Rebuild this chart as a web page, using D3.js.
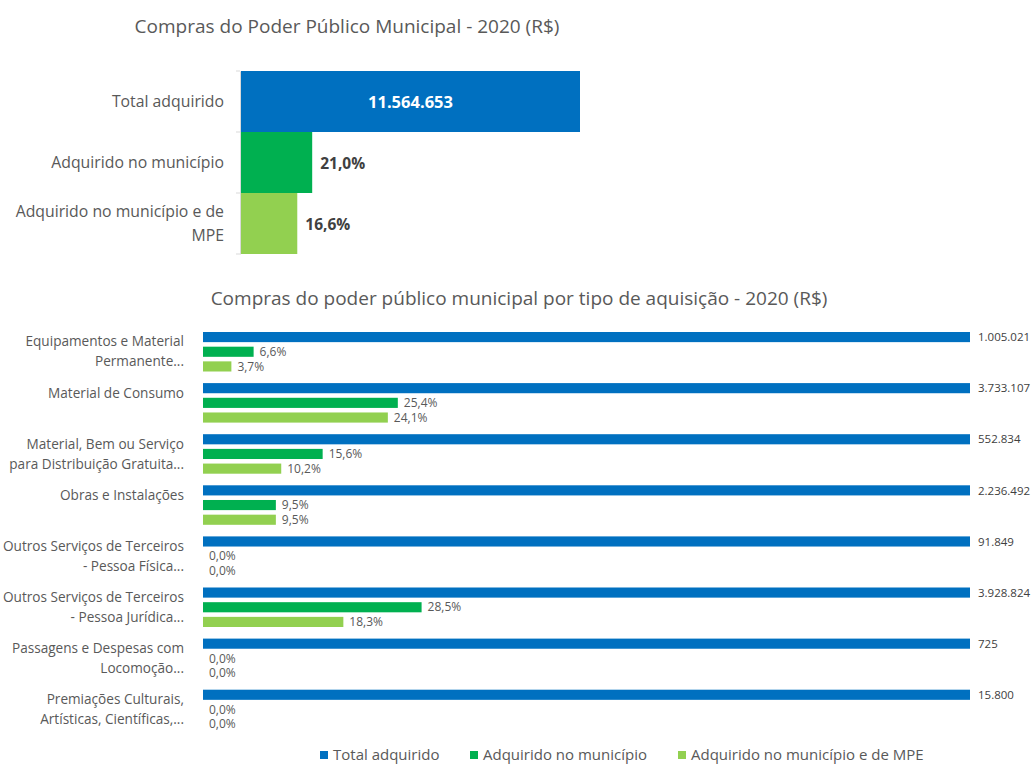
<!DOCTYPE html>
<html><head><meta charset="utf-8">
<script src="https://cdn.jsdelivr.net/npm/d3@7"></script>
<style>body{margin:0;background:#fff}svg{display:block}text{font-family:"Open Sans",Lato,sans-serif}</style>
</head><body><svg id="c" width="1035" height="765"></svg>
<script>
// Top chart data
const topCats = ["Total adquirido", "Adquirido no município", "Adquirido no município e de MPE"];
const topLabelLines = [["Total adquirido"], ["Adquirido no município"], ["Adquirido no município e de", "MPE"]];
const topPct = [100, 21.0, 16.6];
const topLabels = ["11.564.653", "21,0%", "16,6%"];

// Bottom chart data
const categories = [
  ["Equipamentos e Material", "Permanente..."],
  ["Material de Consumo"],
  ["Material, Bem ou Serviço", "para Distribuição Gratuita..."],
  ["Obras e Instalações"],
  ["Outros Serviços de Terceiros", "- Pessoa Física..."],
  ["Outros Serviços de Terceiros", "- Pessoa Jurídica..."],
  ["Passagens e Despesas com", "Locomoção..."],
  ["Premiações Culturais,", "Artísticas, Científicas,..."]
];
const seriesNames = ["Total adquirido", "Adquirido no município", "Adquirido no município e de MPE"];
const totalValues = ["1.005.021", "3.733.107", "552.834", "2.236.492", "91.849", "3.928.824", "725", "15.800"];
const totalPct = [100, 100, 100, 100, 100, 100, 100, 100];
const municipioPct = [6.6, 25.4, 15.6, 9.5, 0.0, 28.5, 0.0, 0.0];
const mpePct = [3.7, 24.1, 10.2, 9.5, 0.0, 18.3, 0.0, 0.0];
const colors = ["#0070C0", "#00B050", "#92D050"];

const fmtPct = v => v.toFixed(1).replace(".", ",") + "%";
const svg = d3.select("#c");
const gray = "#595959";

// ---- Top chart ----
svg.append("text").attr("x", 347).attr("y", 33).attr("text-anchor", "middle")
  .attr("font-size", 19).attr("fill", gray).text("Compras do Poder Público Municipal - 2020 (R$)");

const tx = d3.scaleLinear().domain([0, 100]).range([241, 580]);
const ty = d3.scaleBand().domain(topCats).range([71, 254]).padding(0);

svg.selectAll("rect.top").data(topCats).join("rect").attr("class", "top")
  .attr("x", tx(0)).attr("y", d => ty(d)).attr("height", ty.bandwidth())
  .attr("width", (d, i) => tx(topPct[i]) - tx(0)).attr("fill", (d, i) => colors[i]);

const tAxis = svg.append("g").attr("transform", `translate(240,0)`)
  .call(d3.axisLeft(ty).tickSize(0).tickFormat(""));
tAxis.select(".domain").attr("stroke", "#d9d9d9");
svg.selectAll("line.tt").data([...topCats.map(c => ty(c)), ty(topCats[2]) + ty.bandwidth()]).join("line")
  .attr("x1", 236).attr("x2", 240).attr("y1", d => d).attr("y2", d => d).attr("stroke", "#d9d9d9");

topLabelLines.forEach((lines, i) => {
  const cy = ty(topCats[i]) + ty.bandwidth() / 2;
  const n = lines.length;
  lines.forEach((l, j) => {
    svg.append("text").attr("x", 224).attr("y", cy + (j - (n - 1) / 2) * 24 + 5.5)
      .attr("text-anchor", "end").attr("font-size", 15.8).attr("fill", gray).text(l);
  });
});
topCats.forEach((c, i) => {
  const cy = ty(c) + ty.bandwidth() / 2;
  if (i === 0) {
    svg.append("text").attr("x", (tx(0) + tx(100)) / 2).attr("y", cy + 6.5).attr("text-anchor", "middle")
      .attr("font-size", 16.5).attr("font-weight", "bold").attr("fill", "#fff").text(topLabels[i]);
  } else {
    svg.append("text").attr("x", tx(topPct[i]) + 8).attr("y", cy + 6.5)
      .attr("font-size", 15.5).attr("font-weight", "bold").attr("fill", "#404040").text(topLabels[i]);
  }
});

// ---- Bottom chart ----
svg.append("text").attr("x", 519).attr("y", 305).attr("text-anchor", "middle")
  .attr("font-size", 19).attr("fill", gray).text("Compras do poder público municipal por tipo de aquisição - 2020 (R$)");

const bx = d3.scaleLinear().domain([0, 100]).range([203, 970]);
const catIdx = d3.range(categories.length);
const gy = d3.scaleBand().domain(catIdx).range([326.2, 326.2 + 8 * 51.1]).paddingInner(0.227).paddingOuter(0.1135);
const sy = d3.scaleBand().domain(d3.range(3)).range([0, gy.bandwidth()]).paddingInner(0.31).paddingOuter(0);
const seriesData = [totalPct, municipioPct, mpePct];

const groups = svg.selectAll("g.grp").data(catIdx).join("g").attr("class", "grp")
  .attr("transform", d => `translate(0,${gy(d)})`);
seriesData.forEach((vals, s) => {
  groups.append("rect").attr("x", bx(0)).attr("y", sy(s)).attr("height", sy.bandwidth())
    .attr("width", d => bx(vals[d]) - bx(0)).attr("fill", colors[s]);
  groups.append("text")
    .attr("x", d => bx(vals[d]) + (s === 0 ? 8 : 6))
    .attr("y", sy(s) + sy.bandwidth() / 2 + 4.2)
    .attr("font-size", s === 0 ? 11.5 : 12).attr("fill", s === 0 ? "#404040" : gray)
    .text(d => s === 0 ? totalValues[d] : fmtPct(vals[d]));
});
groups.each(function (d) {
  const g = d3.select(this);
  categories[d].forEach((l, j) => {
    g.append("text").attr("x", 184).attr("y", 9.5 + j * 20 + 5).attr("text-anchor", "end")
      .attr("font-size", 13.6).attr("fill", gray).text(l);
  });
});

// Legend
const legX = [320, 470, 678];
seriesNames.forEach((n, i) => {
  svg.append("rect").attr("x", legX[i]).attr("y", 751).attr("width", 8).attr("height", 8).attr("fill", colors[i]);
  svg.append("text").attr("x", legX[i] + 13).attr("y", 760).attr("font-size", 15).attr("fill", gray).text(n);
});
</script></body></html>
